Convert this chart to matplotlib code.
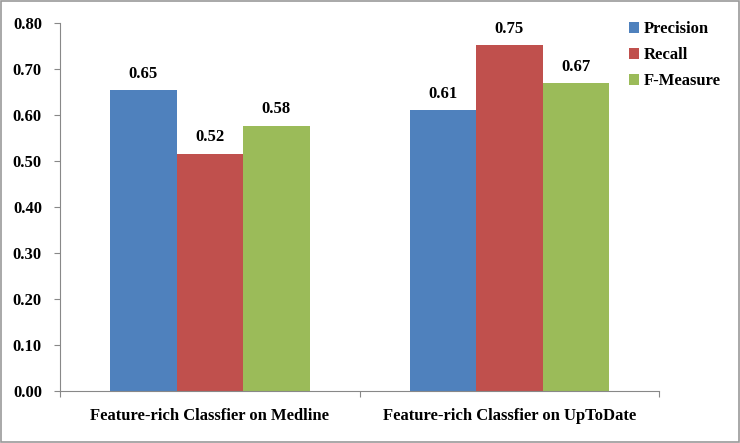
import numpy as np
import matplotlib.pyplot as plt
from matplotlib.patches import Rectangle

categories = ['Feature-rich Classfier on Medline', 'Feature-rich Classfier on UpToDate']
series = ['Precision', 'Recall', 'F-Measure']
precision = [0.654, 0.610]
recall = [0.516, 0.752]
fmeasure = [0.577, 0.670]
labels = [['0.65', '0.61'], ['0.52', '0.75'], ['0.58', '0.67']]
colors = ['#4f81bd', '#c0504d', '#9bbb59']

plt.rcParams['font.family'] = ['Liberation Serif', 'DejaVu Serif']
plt.rcParams['font.weight'] = 'bold'

fig = plt.figure(figsize=(7.4, 4.43), dpi=100)
ax = fig.add_axes([0.081, 0.117, 0.81, 0.831])

x = np.arange(len(categories))
w = 0.222
vals = [precision, recall, fmeasure]
for i, (name, v) in enumerate(zip(series, vals)):
    bars = ax.bar(x + (i - 1) * w, v, w, color=colors[i], label=name, zorder=2)
    for b, t in zip(bars, labels[i]):
        ax.annotate(t, (b.get_x() + b.get_width() / 2, b.get_height()),
                    xytext=(0, 6), textcoords='offset points', ha='center',
                    va='bottom', fontsize=12, fontweight='bold')

ax.set_xlim(-0.5, 1.5)
ax.set_ylim(0, 0.8)
ax.set_yticks(np.arange(0, 0.81, 0.1))
ax.set_yticklabels(['%.2f' % t for t in np.arange(0, 0.81, 0.1)], fontsize=12, fontweight='bold')
ax.set_xticks([-0.5, 0.5, 1.5], minor=False)
ax.set_xticklabels([])
ax.set_xticks(x, minor=True)
ax.set_xticklabels(categories, minor=True, fontsize=12, fontweight='bold')
ax.tick_params(axis='x', which='minor', length=0, pad=12)
ax.tick_params(axis='x', which='major', length=4, color='#888888')
ax.tick_params(axis='y', length=4, color='#888888', pad=9)
for s in ['top', 'right']:
    ax.spines[s].set_visible(False)
for s in ['left', 'bottom']:
    ax.spines[s].set_color('#888888')

leg = ax.legend(loc='upper left', bbox_to_anchor=(0.925, 1.045), frameon=False,
                prop={'size': 12, 'weight': 'bold'}, handlelength=0.6,
                handleheight=0.6, handletextpad=0.25, labelspacing=0.6)

fig.patches.append(Rectangle((0.001, 0.002), 0.997, 0.995, transform=fig.transFigure,
                             fill=False, edgecolor='#999999', linewidth=1.2))

fig.savefig('out.png', dpi=100)
